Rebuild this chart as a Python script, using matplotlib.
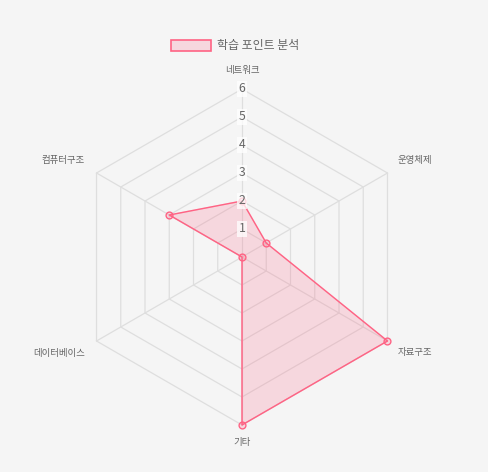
import numpy as np
import matplotlib.pyplot as plt
from matplotlib.patches import Patch

plt.rcParams['font.family'] = ['Noto Sans CJK KR', 'DejaVu Sans']

# data
categories = ['네트워크', '운영체제', '자료구조', '기타', '데이터베이스', '컴퓨터구조']
values = [2, 1, 6, 6, 0, 3]
ticks = [1, 2, 3, 4, 5, 6]
series_name = '학습 포인트 분석'

pink = '#ff6384'
fill = (1.0, 0.388, 0.518, 0.2)
bg = '#f5f5f5'
grid_c = '#dedede'
text_c = '#666666'

fig = plt.figure(figsize=(4.88, 4.72), dpi=100, facecolor=bg)
# centre (242, 257) px, radius 168 px
ax = fig.add_axes([74 / 488, 47 / 472, 336 / 488, 336 / 472], projection='polar')
ax.set_facecolor('none')
ax.set_theta_offset(np.pi / 2)
ax.set_theta_direction(-1)
ax.set_ylim(0, 6)
ax.grid(False)
ax.spines['polar'].set_visible(False)
ax.set_xticks([])
ax.set_yticks([])

n = len(categories)
angles = np.arange(n) * 2 * np.pi / n
closed = np.append(angles, angles[0])

# hexagon grid + spokes
for r in ticks:
    ax.plot(closed, [r] * (n + 1), color=grid_c, lw=0.9, zorder=1, clip_on=False)
for a in angles:
    ax.plot([a, a], [0, 6], color=grid_c, lw=0.9, zorder=1, clip_on=False)

# data polygon
vals = np.append(values, values[0])
ax.fill(closed, vals, color=fill, zorder=2, clip_on=False)
ax.plot(closed, vals, color=pink, lw=1, zorder=3, clip_on=False)
ax.scatter(angles, values, s=24, facecolor=fill, edgecolor=pink, linewidth=1, zorder=4,
           clip_on=False)

# tick labels
for t in ticks:
    ax.text(0, t, str(t), ha='center', va='center', fontsize=8.8, color=text_c, zorder=5,
            bbox=dict(boxstyle='square,pad=0.15', facecolor=(1, 1, 1, 0.75), edgecolor='none'))

# category labels (offsets in px converted to pt)
offsets = [(0, 19, 'center'), (10.5, 13, 'left'), (10.5, -12, 'left'),
           (0, -18, 'center'), (-11.5, -12, 'right'), (-11.5, 13, 'right')]
for a, lab, (dx, dy, ha) in zip(angles, categories, offsets):
    ax.annotate(lab, xy=(a, 6), xytext=(dx * 0.72, dy * 0.72), textcoords='offset points',
                ha=ha, va='center', fontsize=6.8, color=text_c, annotation_clip=False)

handle = Patch(facecolor=fill, edgecolor=pink, linewidth=1.2, label=series_name)
fig.legend(handles=[handle], loc='center', bbox_to_anchor=(235 / 488, 1 - 46 / 472),
           frameon=False, fontsize=8.6, handlelength=3.33, handleheight=1.0,
           handletextpad=0.5, labelcolor=text_c)

fig.savefig('out.png', dpi=100, facecolor=bg)
